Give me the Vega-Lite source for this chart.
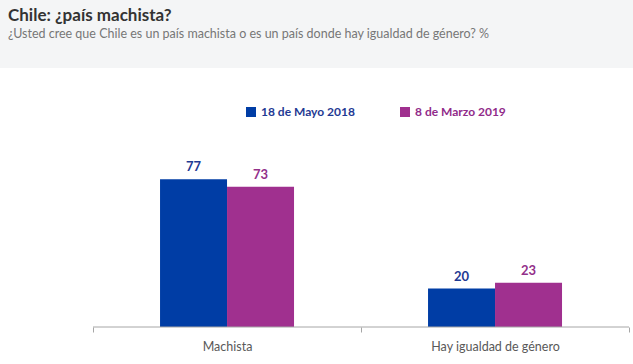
{
  "$schema": "https://vega.github.io/schema/vega-lite/v6.json",
  "padding": 0,
  "background": "white",
  "spacing": 38,
  "config": {
    "font": "Lato",
    "view": {"stroke": null},
    "axisX": {
      "labelAngle": 0,
      "tickBand": "extent",
      "domain": false,
      "tickColor": "#a6a6a6",
      "tickSize": 5,
      "labelColor": "#595959",
      "labelFontSize": 12.5,
      "labelPadding": 8
    }
  },
  "vconcat": [
    {
      "width": 633,
      "height": 68,
      "view": {"fill": "#f4f5f6", "stroke": null},
      "title": {
        "text": "Chile: ¿país machista?",
        "subtitle": "¿Usted cree que Chile es un país machista o es un país donde hay igualdad de género? %",
        "anchor": "start",
        "frame": "group",
        "offset": -41,
        "dx": 8,
        "font": "Lato",
        "fontSize": 17,
        "fontWeight": "bold",
        "color": "#333333",
        "subtitleFont": "Lato",
        "subtitleFontSize": 12.5,
        "subtitleColor": "#777777",
        "subtitlePadding": 3
      },
      "data": {"values": [{"t": ""}]},
      "mark": "text",
      "encoding": {"text": {"field": "t"}}
    },
    {
      "width": 633,
      "height": 192,
      "data": {
        "values": [
          {"cat": "Machista", "serie": "18 de Mayo 2018", "value": 77},
          {"cat": "Machista", "serie": "8 de Marzo 2019", "value": 73},
          {"cat": "Hay igualdad de género", "serie": "18 de Mayo 2018", "value": 20},
          {"cat": "Hay igualdad de género", "serie": "8 de Marzo 2019", "value": 23}
        ]
      },
      "layer": [
        {
          "mark": {"type": "bar"},
          "encoding": {
            "x": {
              "field": "cat",
              "type": "nominal",
              "title": null,
              "scale": {"domain": ["Machista", "Hay igualdad de género"], "paddingInner": 0, "paddingOuter": 0.181, "align": 0.959}
            },
            "xOffset": {
              "field": "serie",
              "type": "nominal",
              "scale": {"domain": ["18 de Mayo 2018", "8 de Marzo 2019"], "paddingInner": 0, "paddingOuter": 1}
            },
            "y": {"field": "value", "type": "quantitative", "scale": {"domain": [0, 100]}, "axis": null},
            "color": {
              "field": "serie",
              "type": "nominal",
              "scale": {"domain": ["18 de Mayo 2018", "8 de Marzo 2019"], "range": ["#003da5", "#a0308f"]},
              "legend": {
                "title": null,
                "orient": "none",
                "legendX": 245,
                "legendY": -29,
                "direction": "horizontal",
                "symbolType": "square",
                "symbolSize": 100,
                "symbolStrokeWidth": 0,
                "labelFontSize": 12,
                "labelFontWeight": "bold",
                "labelOffset": 4,
                "columnPadding": 44,
                "encode": {
                  "labels": {
                    "update": {
                      "fill": {"signal": "datum.value === '18 de Mayo 2018' ? '#1f3a93' : '#912b8a'"}
                    }
                  }
                }
              }
            }
          }
        },
        {
          "mark": {"type": "text", "baseline": "alphabetic", "dy": -8, "fontWeight": "bold", "fontSize": 13},
          "encoding": {
            "x": {"field": "cat", "type": "nominal", "title": null},
            "xOffset": {"field": "serie", "type": "nominal"},
            "y": {"field": "value", "type": "quantitative", "axis": null},
            "text": {"field": "value", "type": "quantitative"},
            "color": {
              "field": "serie",
              "type": "nominal",
              "scale": {"domain": ["18 de Mayo 2018", "8 de Marzo 2019"], "range": ["#1f3a93", "#93308a"]},
              "legend": null
            }
          }
        },
        {
          "data": {"values": [{}]},
          "mark": {"type": "rule", "color": "#a6a6a6", "strokeWidth": 1},
          "encoding": {
            "x": {"datum": "Machista", "type": "nominal", "bandPosition": 0, "title": null},
            "x2": {"datum": "Hay igualdad de género", "bandPosition": 1},
            "y": {"datum": 0, "type": "quantitative", "axis": null}
          }
        }
      ],
      "resolve": {"scale": {"color": "independent"}}
    }
  ]
}
